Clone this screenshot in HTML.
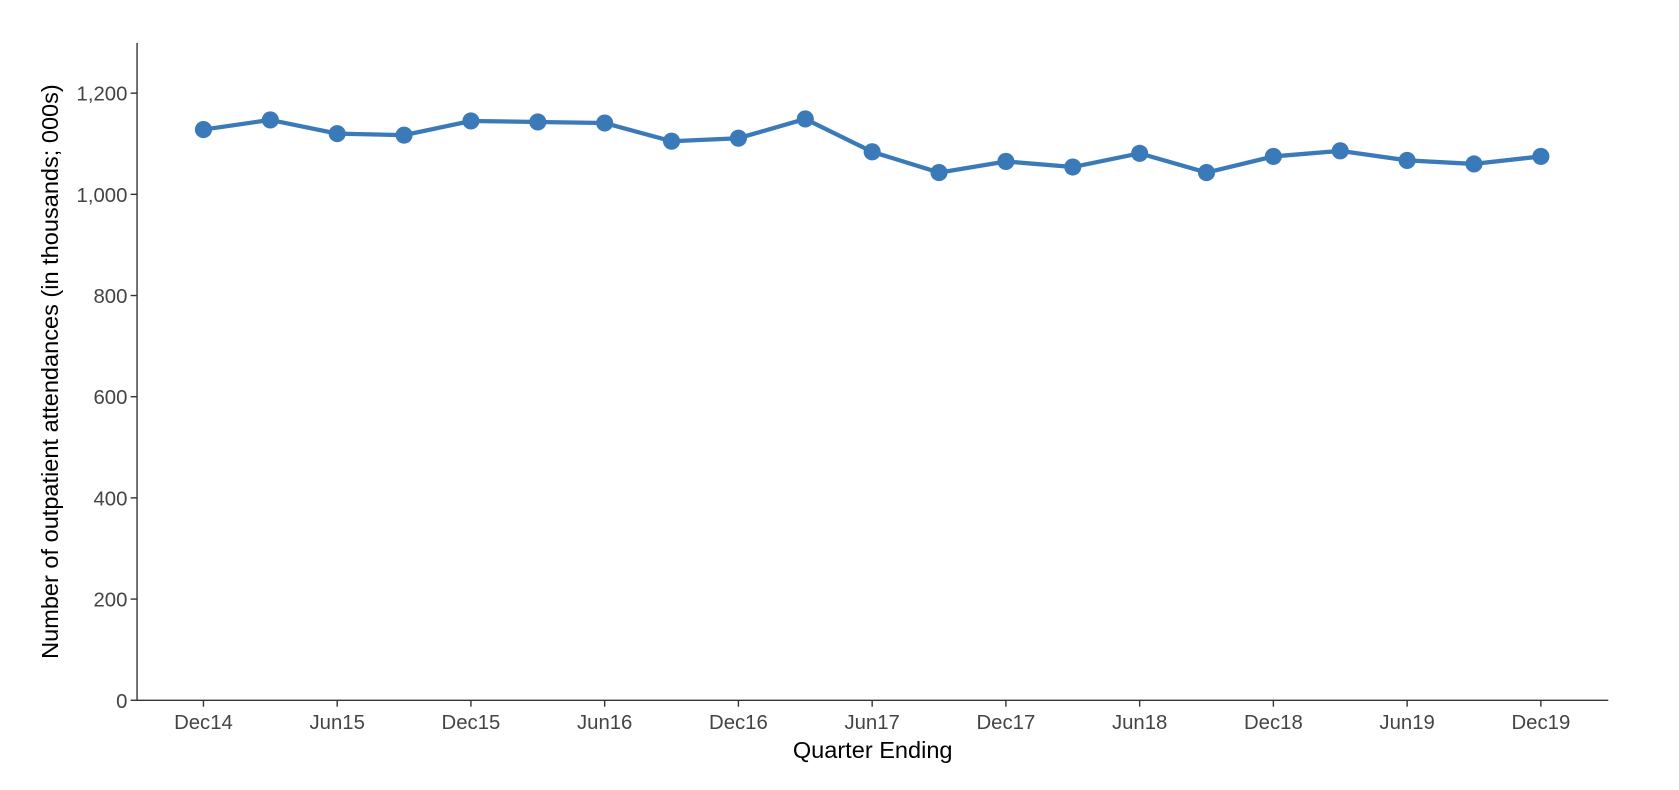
<!DOCTYPE html>
<html><head><meta charset="utf-8"><style>
html,body{margin:0;padding:0;background:#fff;}
svg{display:block;font-family:"Liberation Sans",sans-serif;}
</style></head><body>
<svg id="chart" width="1679" height="790" viewBox="0 0 1568 737.8" preserveAspectRatio="none" xmlns="http://www.w3.org/2000/svg">
<g id="axes"></g>
<g id="plot"></g>
<text x="815" y="708" font-size="22" text-anchor="middle" fill="#000">Quarter Ending</text>
<text transform="translate(54,347) rotate(-90)" font-size="22" text-anchor="middle" fill="#000">Number of outpatient attendances (in thousands; 000s)</text>
</svg>
<script>
const categories = ["Dec14","Mar15","Jun15","Sep15","Dec15","Mar16","Jun16","Sep16","Dec16","Mar17","Jun17","Sep17","Dec17","Mar18","Jun18","Sep18","Dec18","Mar19","Jun19","Sep19","Dec19"];
const values = [1128,1147,1120,1117,1145,1143,1141,1105,1111,1149,1084,1043,1065,1054,1081,1043,1075,1086,1067,1060,1075];
const yTicks = [0,200,400,600,800,1000,1200];
const yTickLabels = ["0","200","400","600","800","1,000","1,200"];
const xTickLabels = ["Dec14","Jun15","Dec15","Jun16","Dec16","Jun17","Dec17","Jun18","Dec18","Jun19","Dec19"];

const NS = "http://www.w3.org/2000/svg";
const x0 = 190, x1 = 1439, axL = 128, axR = 1502, yTop = 40, yBot = 654;
const px = i => x0 + (x1 - x0) * i / (categories.length - 1);
const py = v => yBot - (yBot - 87) * v / 1200;
function mk(tag, attrs, parent){const e=document.createElementNS(NS,tag);for(const k in attrs)e.setAttribute(k,attrs[k]);parent.appendChild(e);return e;}
const axes = document.getElementById('axes'), plot = document.getElementById('plot');

let yl = mk('line',{x1:axL,y1:yTop,x2:axL,y2:yBot,stroke:'#333','stroke-width':1.3},axes);


let xl = mk('line',{x1:axL,y1:yBot,x2:axR,y2:yBot,stroke:'#333','stroke-width':1.3},axes);



yTicks.forEach((v,i)=>{
  const y = py(v);
  mk('line',{x1:axL-6,y1:y,x2:axL,y2:y,stroke:'#333','stroke-width':1.3},axes);
  const t = mk('text',{x:axL-9,y:y+7,'font-size':19,'text-anchor':'end',fill:'#444'},axes);
  t.textContent = yTickLabels[i];
  
  
});
xTickLabels.forEach(lbl=>{
  const i = categories.indexOf(lbl);
  const x = px(i);
  mk('line',{x1:x,y1:yBot,x2:x,y2:yBot+6,stroke:'#333','stroke-width':1.3},axes);
  const t = mk('text',{x:x,y:yBot+27,'font-size':19,'text-anchor':'middle',fill:'#444'},axes);
  t.textContent = lbl;
  
  
});

const d = values.map((v,i)=>(i?'L':'M')+px(i).toFixed(1)+','+py(v).toFixed(1)).join(' ');
const line = mk('path',{d:d,fill:'none',stroke:'#3a7ab8','stroke-width':4,'stroke-linejoin':'round'},plot);


values.forEach((v,i)=>{
  const c = mk('circle',{cx:px(i),cy:py(v),r:8,fill:'#3a7ab8'},plot);
  
  
});
</script>
</body></html>
